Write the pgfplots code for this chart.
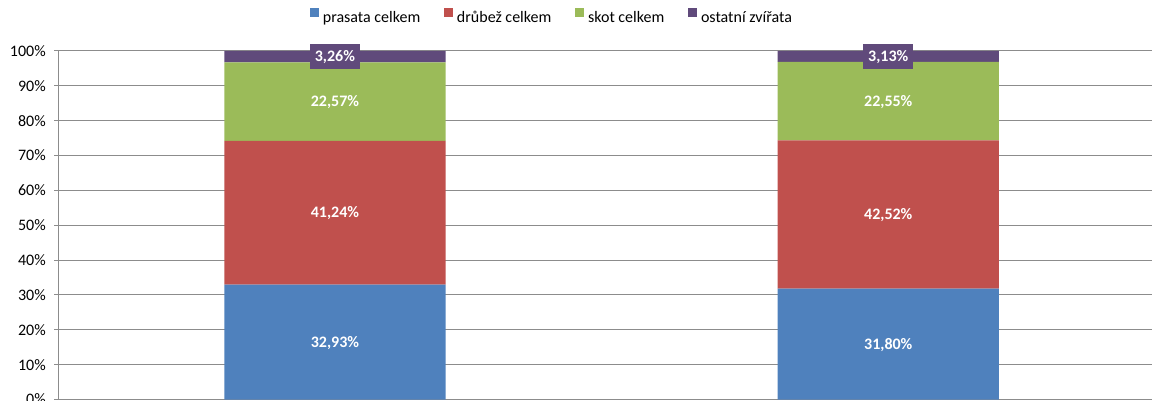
\documentclass[border=0pt]{standalone}
\usepackage{pgfplots}
\pgfplotsset{compat=1.18}
\usepackage{fontspec}
\setmainfont{Carlito}
\definecolor{cblue}{HTML}{4F81BD}
\definecolor{cred}{HTML}{C0504D}
\definecolor{cgreen}{HTML}{9BBB59}
\definecolor{cpurple}{HTML}{604A7B}
\definecolor{cgrid}{HTML}{8C8C8C}
\newcommand{\chartfont}{\fontsize{12pt}{14.4pt}\selectfont}
\begin{document}
\chartfont
\begin{tikzpicture}
\useasboundingbox (0,0) rectangle (864pt,300pt);
\clip (0,0) rectangle (864pt,300pt);
\pgfplotsset{
  base/.style={
    scale only axis, width=830pt, height=261.4pt,
    at={(43.7pt,0.375pt)}, anchor=south west,
    xmin=-0.5, xmax=1.5, ymin=0, ymax=100,
  }
}
\begin{axis}[base,
  ybar stacked, bar width=165.9pt,
  axis x line*=bottom, axis y line*=left,
  axis line style={cgrid, line width=0.75pt},
  xtick=\empty,
  ytick={0,10,...,100},
  yticklabels={0\%,10\%,20\%,30\%,40\%,50\%,60\%,70\%,80\%,90\%,100\%},
  ymajorgrids, grid style={cgrid, line width=0.75pt},
  major tick style={cgrid, line width=0.75pt},
  tick align=outside, major tick length=3pt,
  yticklabel style={font=\chartfont, text=black, xshift=-2.2pt},
  legend columns=4,
  legend style={draw=none, fill=none, at={(0.2274,1.0947)}, anchor=west,
    inner sep=0pt, font=\chartfont,
    nodes={inner xsep=3pt},
    /tikz/every even column/.append style={column sep=15pt}},
  legend image code/.code={\fill[#1] (0pt,0.75pt) rectangle (6.5pt,7.25pt);},
]
\addplot[fill=cblue, draw=none] coordinates {(0,32.93) (1,31.80)};
\addplot[fill=cred, draw=none] coordinates {(0,41.24) (1,42.52)};
\addplot[fill=cgreen, draw=none] coordinates {(0,22.57) (1,22.55)};
\addplot[fill=cpurple, draw=none] coordinates {(0,3.26) (1,3.13)};
\legend{prasata celkem, drůbež celkem, skot celkem, ostatní zvířata}
\end{axis}
\begin{axis}[base, hide axis,
  nodes near coords, point meta=explicit symbolic,
  every node near coord/.style={anchor=center, text=white,
    font=\chartfont\bfseries, text height=0.63em, text depth=0pt}]
\addplot[draw=none] coordinates {(0,16.465) [32,93\%] (1,15.90) [31,80\%]
  (0,53.55) [41,24\%] (1,53.06) [42,52\%]
  (0,85.455) [22,57\%] (1,85.595) [22,55\%]};
\addplot[draw=none, every node near coord/.append style={fill=cpurple,
  minimum width=37.5pt, minimum height=18.5pt, inner sep=0pt}]
  coordinates {(0,98.37) [3,26\%] (1,98.435) [3,13\%]};
\end{axis}
\end{tikzpicture}
\end{document}
